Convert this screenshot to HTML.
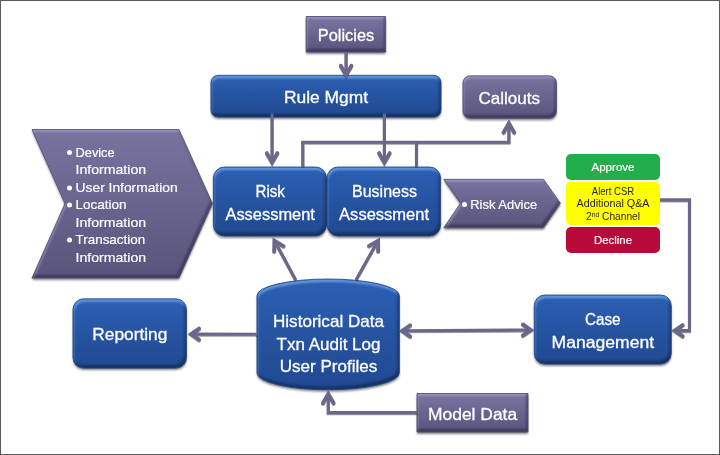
<!DOCTYPE html>
<html lang="en">
<head>
<meta charset="utf-8">
<title>Risk assessment architecture</title>
<style>
html,body{margin:0;padding:0;background:#fff;}
body{width:720px;height:455px;overflow:hidden;}
svg{display:block;font-family:"Liberation Sans",sans-serif;}
</style>
</head>
<body>
<svg width="720" height="455" viewBox="0 0 720 455">
<defs>
<linearGradient id="gb" x1="0" y1="0" x2="0" y2="1">
<stop offset="0" stop-color="#2c5fb3"/>
<stop offset="1" stop-color="#204990"/>
</linearGradient>
<linearGradient id="gp" x1="0" y1="0" x2="0" y2="1">
<stop offset="0" stop-color="#7874a0"/>
<stop offset="1" stop-color="#58547b"/>
</linearGradient>
<linearGradient id="gq" x1="0" y1="0" x2="0" y2="1">
<stop offset="0" stop-color="#7a76a3"/>
<stop offset="1" stop-color="#57537a"/>
</linearGradient>
<filter id="bevb" x="-10%" y="-15%" width="120%" height="135%" color-interpolation-filters="sRGB">
<feOffset in="SourceAlpha" dx="1.4" dy="2.6" result="o1"/>
<feComposite in="SourceAlpha" in2="o1" operator="out" result="hiA"/>
<feGaussianBlur in="hiA" stdDeviation="0.8" result="hiB"/>
<feFlood flood-color="#8fc4ff" flood-opacity="0.6" result="hiF"/>
<feComposite in="hiF" in2="hiB" operator="in" result="hi"/>
<feOffset in="SourceAlpha" dx="-1.6" dy="-3.0" result="o2"/>
<feComposite in="SourceAlpha" in2="o2" operator="out" result="loA"/>
<feGaussianBlur in="loA" stdDeviation="1" result="loB"/>
<feFlood flood-color="#05051a" flood-opacity="0.4" result="loF"/>
<feComposite in="loF" in2="loB" operator="in" result="lo"/>
<feMerge result="m"><feMergeNode in="SourceGraphic"/><feMergeNode in="hi"/><feMergeNode in="lo"/></feMerge>
<feComposite in="m" in2="SourceAlpha" operator="in" result="body"/>
<feGaussianBlur in="SourceAlpha" stdDeviation="1" result="sb"/>
<feOffset in="sb" dx="0.3" dy="1.7" result="so"/>
<feComponentTransfer in="so" result="shadow"><feFuncA type="linear" slope="0.5"/></feComponentTransfer>
<feMerge><feMergeNode in="shadow"/><feMergeNode in="body"/></feMerge>
</filter>
<filter id="bevp" x="-10%" y="-15%" width="120%" height="135%" color-interpolation-filters="sRGB">
<feOffset in="SourceAlpha" dx="1.4" dy="2.0" result="o1"/>
<feComposite in="SourceAlpha" in2="o1" operator="out" result="hiA"/>
<feGaussianBlur in="hiA" stdDeviation="0.8" result="hiB"/>
<feFlood flood-color="#cfcbf5" flood-opacity="0.5" result="hiF"/>
<feComposite in="hiF" in2="hiB" operator="in" result="hi"/>
<feOffset in="SourceAlpha" dx="-1.6" dy="-2.8" result="o2"/>
<feComposite in="SourceAlpha" in2="o2" operator="out" result="loA"/>
<feGaussianBlur in="loA" stdDeviation="1" result="loB"/>
<feFlood flood-color="#0a0820" flood-opacity="0.38" result="loF"/>
<feComposite in="loF" in2="loB" operator="in" result="lo"/>
<feMerge result="m"><feMergeNode in="SourceGraphic"/><feMergeNode in="hi"/><feMergeNode in="lo"/></feMerge>
<feComposite in="m" in2="SourceAlpha" operator="in" result="body"/>
<feGaussianBlur in="SourceAlpha" stdDeviation="1" result="sb"/>
<feOffset in="sb" dx="0.3" dy="1.7" result="so"/>
<feComponentTransfer in="so" result="shadow"><feFuncA type="linear" slope="0.5"/></feComponentTransfer>
<feMerge><feMergeNode in="shadow"/><feMergeNode in="body"/></feMerge>
</filter>
<filter id="lsh" x="-5%" y="-5%" width="110%" height="110%" color-interpolation-filters="sRGB">
<feGaussianBlur in="SourceAlpha" stdDeviation="0.3 0.7" result="sb"/>
<feOffset in="sb" dx="0" dy="1.3" result="so"/>
<feComponentTransfer in="so" result="shadow"><feFuncA type="linear" slope="0.4"/></feComponentTransfer>
<feGaussianBlur in="SourceGraphic" stdDeviation="0.4" result="soft"/>
<feMerge><feMergeNode in="shadow"/><feMergeNode in="soft"/></feMerge>
</filter>
</defs>
<rect x="0" y="0" width="720" height="455" fill="#fff"/>
<g id="shapes">
<rect x="306.2" y="16.5" width="79.4" height="35.5" fill="url(#gq)" filter="url(#bevp)"/>
<rect x="306.2" y="16.5" width="79.4" height="35.5" fill="none" stroke="#4a466c" stroke-opacity="0.85" stroke-width="1" stroke-linejoin="round"/>
<rect x="211" y="75.3" width="230" height="41.8" rx="7" ry="7" fill="url(#gb)" filter="url(#bevb)"/>
<rect x="211" y="75.3" width="230" height="41.8" rx="7" ry="7" fill="none" stroke="#1b3f80" stroke-opacity="0.85" stroke-width="1" stroke-linejoin="round"/>
<rect x="463" y="75.8" width="93.5" height="42.5" rx="7" ry="7" fill="url(#gp)" filter="url(#bevp)"/>
<rect x="463" y="75.8" width="93.5" height="42.5" rx="7" ry="7" fill="none" stroke="#4f4b73" stroke-opacity="0.85" stroke-width="1" stroke-linejoin="round"/>
<path d="M32,129.5 L179,129.5 L212.5,203.5 L179,278 L32,278 L65,203.5 Z" fill="url(#gp)" filter="url(#bevp)"/>
<path d="M32,129.5 L179,129.5 L212.5,203.5 L179,278 L32,278 L65,203.5 Z" fill="none" stroke="#4f4b73" stroke-opacity="0.85" stroke-width="1" stroke-linejoin="round"/>
<rect x="213.4" y="167.0" width="113.1" height="68.9" rx="11" ry="11" fill="url(#gb)" filter="url(#bevb)"/>
<rect x="213.4" y="167.0" width="113.1" height="68.9" rx="11" ry="11" fill="none" stroke="#1b3f80" stroke-opacity="0.85" stroke-width="1" stroke-linejoin="round"/>
<rect x="327.1" y="167.0" width="113.5" height="68.9" rx="11" ry="11" fill="url(#gb)" filter="url(#bevb)"/>
<rect x="327.1" y="167.0" width="113.5" height="68.9" rx="11" ry="11" fill="none" stroke="#1b3f80" stroke-opacity="0.85" stroke-width="1" stroke-linejoin="round"/>
<path d="M443.7,179.3 L543.5,179.3 L560.5,203.2 L543.5,227.8 L443.7,227.8 L460.5,203.2 Z" fill="url(#gp)" filter="url(#bevp)"/>
<path d="M443.7,179.3 L543.5,179.3 L560.5,203.2 L543.5,227.8 L443.7,227.8 L460.5,203.2 Z" fill="none" stroke="#4f4b73" stroke-opacity="0.85" stroke-width="1" stroke-linejoin="round"/>
<rect x="73" y="298.8" width="113.5" height="69.3" rx="10.5" ry="10.5" fill="url(#gb)" filter="url(#bevb)"/>
<rect x="73" y="298.8" width="113.5" height="69.3" rx="10.5" ry="10.5" fill="none" stroke="#1b3f80" stroke-opacity="0.85" stroke-width="1" stroke-linejoin="round"/>
<path d="M257,295.5 A71.2,16.5 0 0 1 399.4,295.5 L399.4,372.8 A71.2,17 0 0 1 257,372.8 Z" fill="url(#gb)" filter="url(#bevb)"/>
<path d="M257,295.5 A71.2,16.5 0 0 1 399.4,295.5 L399.4,372.8 A71.2,17 0 0 1 257,372.8 Z" fill="none" stroke="#1b3f80" stroke-opacity="0.85" stroke-width="1" stroke-linejoin="round"/>
<rect x="534.3" y="295" width="137" height="69" rx="10.5" ry="10.5" fill="url(#gb)" filter="url(#bevb)"/>
<rect x="534.3" y="295" width="137" height="69" rx="10.5" ry="10.5" fill="none" stroke="#1b3f80" stroke-opacity="0.85" stroke-width="1" stroke-linejoin="round"/>
<rect x="417" y="393.5" width="111" height="38.5" fill="url(#gq)" filter="url(#bevp)"/>
<rect x="417" y="393.5" width="111" height="38.5" fill="none" stroke="#4a466c" stroke-opacity="0.85" stroke-width="1" stroke-linejoin="round"/>
<rect x="566" y="154" width="94" height="26" rx="5" fill="#22ae4b"/>
<rect x="566" y="181.8" width="94" height="43.5" rx="5" fill="#ffff00"/>
<rect x="566" y="227" width="94" height="26" rx="5" fill="#b80a3a"/>
</g>
<g id="connectors" filter="url(#lsh)">
<path d="M346.1,52.3 L346.1,74" fill="none" stroke="#6a678a" stroke-width="3.15" stroke-linejoin="miter"/>
<path d="M340.80,65.74 L346.10,74.94 L351.40,65.74" fill="none" stroke="#6a678a" stroke-width="3.85" stroke-linecap="round" stroke-linejoin="miter" stroke-miterlimit="8"/>
<path d="M272.1,113.5 L272.1,161" fill="none" stroke="#6a678a" stroke-width="3.15" stroke-linejoin="miter"/>
<path d="M266.80,153.14 L272.10,162.34 L277.40,153.14" fill="none" stroke="#6a678a" stroke-width="3.85" stroke-linecap="round" stroke-linejoin="miter" stroke-miterlimit="8"/>
<path d="M384.4,113.5 L384.4,161" fill="none" stroke="#6a678a" stroke-width="3.15" stroke-linejoin="miter"/>
<path d="M379.10,153.14 L384.40,162.34 L389.70,153.14" fill="none" stroke="#6a678a" stroke-width="3.85" stroke-linecap="round" stroke-linejoin="miter" stroke-miterlimit="8"/>
<path d="M302.8,166.6 L302.8,142.2 L508.9,142.2 L508.9,124" fill="none" stroke="#6a678a" stroke-width="3.15" stroke-linejoin="miter"/>
<path d="M416.5,166.6 L416.5,142.2" fill="none" stroke="#6a678a" stroke-width="3.15" stroke-linejoin="miter"/>
<path d="M514.20,132.36 L508.90,123.16 L503.60,132.36" fill="none" stroke="#6a678a" stroke-width="3.85" stroke-linecap="round" stroke-linejoin="miter" stroke-miterlimit="8"/>
<path d="M295.8,280 L275,241.5" fill="none" stroke="#6a678a" stroke-width="3.15" stroke-linejoin="miter"/>
<path d="M283.55,246.07 L274.53,240.72 L274.22,251.21" fill="none" stroke="#6a678a" stroke-width="3.85" stroke-linecap="round" stroke-linejoin="miter" stroke-miterlimit="8"/>
<path d="M356,280 L377.5,241.5" fill="none" stroke="#6a678a" stroke-width="3.15" stroke-linejoin="miter"/>
<path d="M378.21,251.16 L378.11,240.68 L368.98,245.84" fill="none" stroke="#6a678a" stroke-width="3.85" stroke-linecap="round" stroke-linejoin="miter" stroke-miterlimit="8"/>
<path d="M257.5,334.3 L192,334.1" fill="none" stroke="#6a678a" stroke-width="3.15" stroke-linejoin="miter"/>
<path d="M199.07,328.60 L191.17,334.10 L199.07,339.60" fill="none" stroke="#6a678a" stroke-width="3.85" stroke-linecap="round" stroke-linejoin="miter" stroke-miterlimit="8"/>
<path d="M403,330.75 L530,330.0" fill="none" stroke="#6a678a" stroke-width="3.15" stroke-linejoin="miter"/>
<path d="M410.17,325.30 L402.27,330.80 L410.17,336.30" fill="none" stroke="#6a678a" stroke-width="3.85" stroke-linecap="round" stroke-linejoin="miter" stroke-miterlimit="8"/>
<path d="M522.93,335.45 L530.83,329.95 L522.93,324.45" fill="none" stroke="#6a678a" stroke-width="3.85" stroke-linecap="round" stroke-linejoin="miter" stroke-miterlimit="8"/>
<path d="M417.5,412.6 L328.3,412.6 L328.3,394" fill="none" stroke="#6a678a" stroke-width="3.15" stroke-linejoin="miter"/>
<path d="M333.60,403.06 L328.30,393.86 L323.00,403.06" fill="none" stroke="#6a678a" stroke-width="3.85" stroke-linecap="round" stroke-linejoin="miter" stroke-miterlimit="8"/>
<path d="M660,199.8 L689.5,199.8 L689.5,330.6 L675,330.6" fill="none" stroke="#6a678a" stroke-width="3.15" stroke-linejoin="miter"/>
<path d="M682.67,325.10 L674.77,330.60 L682.67,336.10" fill="none" stroke="#6a678a" stroke-width="3.85" stroke-linecap="round" stroke-linejoin="miter" stroke-miterlimit="8"/>
</g>
<g id="labels" opacity="0.995">
<text x="346" y="41.3" font-size="16.5" text-anchor="middle" fill="#fff" stroke="#fff" stroke-width="0.3" textLength="56.5" lengthAdjust="spacingAndGlyphs">Policies</text>
<text x="326" y="103.3" font-size="16.5" text-anchor="middle" fill="#fff" stroke="#fff" stroke-width="0.3" textLength="84" lengthAdjust="spacingAndGlyphs">Rule Mgmt</text>
<text x="509.2" y="103.7" font-size="16.5" text-anchor="middle" fill="#fff" stroke="#fff" stroke-width="0.3" textLength="61.5" lengthAdjust="spacingAndGlyphs">Callouts</text>
<text x="270.2" y="196.8" font-size="16.5" text-anchor="middle" fill="#fff" stroke="#fff" stroke-width="0.3" textLength="29.5" lengthAdjust="spacingAndGlyphs">Risk</text>
<text x="270.2" y="219.6" font-size="16.5" text-anchor="middle" fill="#fff" stroke="#fff" stroke-width="0.3" textLength="89.5" lengthAdjust="spacingAndGlyphs">Assessment</text>
<text x="384.5" y="196.8" font-size="16.5" text-anchor="middle" fill="#fff" stroke="#fff" stroke-width="0.3" textLength="65" lengthAdjust="spacingAndGlyphs">Business</text>
<text x="384.1" y="219.6" font-size="16.5" text-anchor="middle" fill="#fff" stroke="#fff" stroke-width="0.3" textLength="90" lengthAdjust="spacingAndGlyphs">Assessment</text>
<text x="129.8" y="340.4" font-size="16.5" text-anchor="middle" fill="#fff" stroke="#fff" stroke-width="0.3" textLength="75" lengthAdjust="spacingAndGlyphs">Reporting</text>
<text x="328.5" y="327.4" font-size="16.5" text-anchor="middle" fill="#fff" stroke="#fff" stroke-width="0.3" textLength="111" lengthAdjust="spacingAndGlyphs">Historical Data</text>
<text x="328.5" y="349.6" font-size="16.5" text-anchor="middle" fill="#fff" stroke="#fff" stroke-width="0.3" textLength="104" lengthAdjust="spacingAndGlyphs">Txn Audit Log</text>
<text x="328.5" y="371.9" font-size="16.5" text-anchor="middle" fill="#fff" stroke="#fff" stroke-width="0.3" textLength="97.5" lengthAdjust="spacingAndGlyphs">User Profiles</text>
<text x="602.8" y="325" font-size="16.5" text-anchor="middle" fill="#fff" stroke="#fff" stroke-width="0.3" textLength="35.6" lengthAdjust="spacingAndGlyphs">Case</text>
<text x="602.8" y="347.6" font-size="16.5" text-anchor="middle" fill="#fff" stroke="#fff" stroke-width="0.3" textLength="102.5" lengthAdjust="spacingAndGlyphs">Management</text>
<text x="472.6" y="419.8" font-size="16.5" text-anchor="middle" fill="#fff" stroke="#fff" stroke-width="0.3" textLength="89" lengthAdjust="spacingAndGlyphs">Model Data</text>
<circle cx="69.5" cy="152.4" r="2.5" fill="#fff"/>
<text x="75.6" y="156.7" font-size="13.4" text-anchor="start" fill="#fff" stroke="#fff" stroke-width="0.2" textLength="39" lengthAdjust="spacingAndGlyphs">Device</text>
<text x="75.6" y="174.2" font-size="13.4" text-anchor="start" fill="#fff" stroke="#fff" stroke-width="0.2" textLength="70.5" lengthAdjust="spacingAndGlyphs">Information</text>
<circle cx="69.5" cy="187.9" r="2.5" fill="#fff"/>
<text x="75.6" y="192.2" font-size="13.4" text-anchor="start" fill="#fff" stroke="#fff" stroke-width="0.2" textLength="102" lengthAdjust="spacingAndGlyphs">User Information</text>
<circle cx="69.5" cy="205.1" r="2.5" fill="#fff"/>
<text x="75.6" y="209.4" font-size="13.4" text-anchor="start" fill="#fff" stroke="#fff" stroke-width="0.2" textLength="51" lengthAdjust="spacingAndGlyphs">Location</text>
<text x="75.6" y="226.5" font-size="13.4" text-anchor="start" fill="#fff" stroke="#fff" stroke-width="0.2" textLength="70.5" lengthAdjust="spacingAndGlyphs">Information</text>
<circle cx="69.5" cy="240.0" r="2.5" fill="#fff"/>
<text x="75.6" y="244.3" font-size="13.4" text-anchor="start" fill="#fff" stroke="#fff" stroke-width="0.2" textLength="69.5" lengthAdjust="spacingAndGlyphs">Transaction</text>
<text x="75.6" y="262" font-size="13.4" text-anchor="start" fill="#fff" stroke="#fff" stroke-width="0.2" textLength="70.5" lengthAdjust="spacingAndGlyphs">Information</text>
<circle cx="464.5" cy="204.5" r="2.5" fill="#fff"/>
<text x="470.2" y="208.7" font-size="13.4" text-anchor="start" fill="#fff" stroke="#fff" stroke-width="0.2" textLength="67" lengthAdjust="spacingAndGlyphs">Risk Advice</text>
<text x="613" y="171.3" font-size="10.5" text-anchor="middle" fill="#fff" stroke="#fff" stroke-width="0.2" textLength="43" lengthAdjust="spacingAndGlyphs">Approve</text>
<text x="613" y="194.9" font-size="10.5" text-anchor="middle" fill="#262626" textLength="42.5" lengthAdjust="spacingAndGlyphs">Alert CSR</text>
<text x="613" y="207.2" font-size="10.5" text-anchor="middle" fill="#262626" textLength="73" lengthAdjust="spacingAndGlyphs">Additional Q&amp;A</text>
<text x="613" y="220" font-size="10.5" text-anchor="middle" fill="#262626" textLength="54" lengthAdjust="spacingAndGlyphs">2<tspan font-size="7" dy="-3.5">nd</tspan><tspan dy="3.5"> Channel</tspan></text>
<text x="613" y="244" font-size="10.5" text-anchor="middle" fill="#fff" stroke="#fff" stroke-width="0.2" textLength="38" lengthAdjust="spacingAndGlyphs">Decline</text>
</g>
<rect x="0.5" y="0.5" width="719" height="454" fill="none" stroke="#5a5a5a" stroke-width="1"/>
</svg>
</body>
</html>
